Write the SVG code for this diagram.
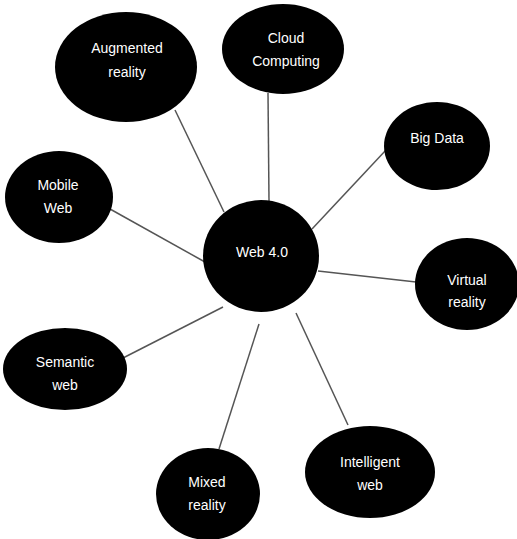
<svg xmlns="http://www.w3.org/2000/svg" width="517" height="539" viewBox="0 0 517 539">
<style>
.n{fill:#000}
.t{fill:#fff;font-family:"Liberation Sans",Arial,sans-serif;font-size:14px;text-anchor:middle}
.c line{stroke:#555;stroke-width:1.5}
</style>
<rect width="517" height="539" fill="#fff"/>
<g class="c" id="connectors">
<line x1="175" y1="110" x2="224" y2="212"/>
<line x1="268" y1="93" x2="269" y2="201"/>
<line x1="386" y1="150" x2="312" y2="229"/>
<line x1="318" y1="271" x2="416" y2="282"/>
<line x1="296" y1="313" x2="348" y2="425"/>
<line x1="259" y1="324" x2="219" y2="449"/>
<line x1="223" y1="307" x2="123" y2="358"/>
<line x1="110" y1="209" x2="205" y2="262"/>
</g>
<g id="augmented"><ellipse class="n" cx="126" cy="67" rx="71" ry="55"/><text class="t" x="127" y="53">Augmented</text><text class="t" x="127" y="77">reality</text></g>
<g id="cloud"><ellipse class="n" cx="283" cy="49" rx="61" ry="45"/><text class="t" x="286" y="43">Cloud</text><text class="t" x="286" y="66">Computing</text></g>
<g id="web40"><ellipse class="n" cx="261" cy="256" rx="58" ry="56"/><text class="t" x="262" y="257">Web 4.0</text></g>
<g id="mobile"><ellipse class="n" cx="59" cy="197" rx="54" ry="46"/><text class="t" x="58" y="190">Mobile</text><text class="t" x="58" y="213">Web</text></g>
<g id="bigdata"><ellipse class="n" cx="437" cy="146" rx="53" ry="44"/><text class="t" x="437" y="143">Big Data</text></g>
<g id="virtual"><ellipse class="n" cx="467" cy="284" rx="52" ry="46"/><text class="t" x="467" y="285">Virtual</text><text class="t" x="467" y="307">reality</text></g>
<g id="semantic"><ellipse class="n" cx="65" cy="369" rx="62" ry="41"/><text class="t" x="65" y="367">Semantic</text><text class="t" x="65" y="390">web</text></g>
<g id="mixed"><ellipse class="n" cx="208" cy="494" rx="52" ry="46"/><text class="t" x="207" y="487">Mixed</text><text class="t" x="207" y="510">reality</text></g>
<g id="intelligent"><ellipse class="n" cx="370" cy="472" rx="65" ry="46"/><text class="t" x="370" y="467">Intelligent</text><text class="t" x="370" y="490">web</text></g>
</svg>
